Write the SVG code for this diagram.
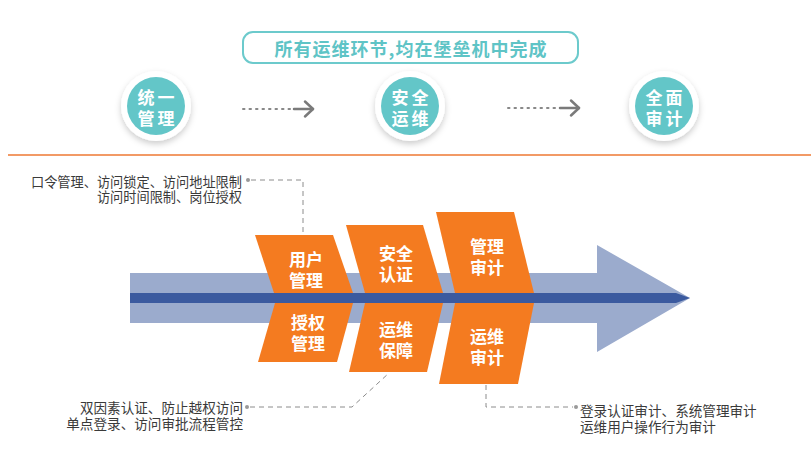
<svg xmlns="http://www.w3.org/2000/svg" width="811" height="474" viewBox="0 0 811 474">
<defs>
<filter id="sh" x="-40%" y="-40%" width="180%" height="180%">
<feDropShadow dx="0" dy="3" stdDeviation="3" flood-color="#000" flood-opacity="0.2"/>
</filter>
</defs>
<style>
text{font-family:"Noto Sans CJK SC","Noto Sans",sans-serif;}
.title{font-size:18px;font-weight:700;fill:#5fc4c6;letter-spacing:1px;}
.ct{font-size:17px;font-weight:700;fill:#fff;letter-spacing:3px;}
.lb{font-size:17px;font-weight:700;fill:#fff;}
.an{font-size:13.2px;fill:#3a3a3a;}
.an2{font-size:13.6px;fill:#3a3a3a;}
.ring{fill:#fff;filter:url(#sh);}
.teal{fill:#63c6c8;}
.orange{fill:#f47b20;}
.dash{fill:none;stroke:#8c8c8c;stroke-width:1;stroke-dasharray:5 4;}
.dots{fill:none;stroke:#888;stroke-width:2;stroke-dasharray:1.5 5;stroke-linecap:round;}
.arr{fill:none;stroke:#7a7a7a;stroke-width:2.5;stroke-linecap:round;stroke-linejoin:round;}
</style>
<rect width="811" height="474" fill="#fff"/>

<g id="title">
<rect x="243" y="32" width="335" height="31" rx="10" fill="#fff" stroke="#6ccacc" stroke-width="2"/>
<text class="title" x="411" y="48" text-anchor="middle" dominant-baseline="central">所有运维环节,均在堡垒机中完成</text>
</g>

<g id="step1">
<circle class="ring" cx="156" cy="106" r="35"/>
<circle class="teal" cx="156" cy="106" r="29"/>
<text class="ct" text-anchor="middle" dominant-baseline="central"><tspan x="157.5" y="96">统一</tspan><tspan x="157.5" y="117">管理</tspan></text>
</g>
<g id="step2">
<circle class="ring" cx="410" cy="106" r="35"/>
<circle class="teal" cx="410" cy="106" r="29"/>
<text class="ct" text-anchor="middle" dominant-baseline="central"><tspan x="411.5" y="96">安全</tspan><tspan x="411.5" y="117">运维</tspan></text>
</g>
<g id="step3">
<circle class="ring" cx="664" cy="106" r="35"/>
<circle class="teal" cx="664" cy="106" r="29"/>
<text class="ct" text-anchor="middle" dominant-baseline="central"><tspan x="665.5" y="96">全面</tspan><tspan x="665.5" y="117">审计</tspan></text>
</g>

<g id="connectors">
<line class="dots" x1="243" y1="109" x2="292" y2="109"/>
<line class="arr" x1="294" y1="109" x2="313" y2="109"/>
<polyline class="arr" points="305,101.5 313,109 305,116.5"/>
<line class="dots" x1="508" y1="108" x2="558" y2="108"/>
<line class="arr" x1="560" y1="108" x2="579" y2="108"/>
<polyline class="arr" points="571,100.5 579,108 571,115.5"/>
<circle cx="248" cy="180" r="2" fill="#999"/>
<polyline class="dash" points="251,180 303,180 303,234"/>
<circle cx="247" cy="407" r="2" fill="#999"/>
<polyline class="dash" points="250,407 352,407 389,373"/>
<circle cx="576" cy="407" r="2" fill="#999"/>
<polyline class="dash" points="486,385 486,407 573,407"/>
</g>

<line x1="8" y1="155" x2="811" y2="155" stroke="#f29a66" stroke-width="2"/>

<g id="spine">
<polygon points="130,273 597,273 597,245 690,298 597,352 597,323 130,323" fill="#9babcd"/>
<polygon points="130,293 676,293 690,298 676,303 130,303" fill="#3b5a9f"/>
</g>

<g id="user-mgmt">
<polygon class="orange" points="255,235 333,235 353,293 274,293"/>
<text class="lb" text-anchor="middle" dominant-baseline="central"><tspan x="306" y="258">用户</tspan><tspan x="306" y="279">管理</tspan></text>
</g>
<g id="auth-mgmt">
<polygon class="orange" points="275,303 353,303 337,362 258,362"/>
<text class="lb" text-anchor="middle" dominant-baseline="central"><tspan x="308" y="321">授权</tspan><tspan x="308" y="342">管理</tspan></text>
</g>
<g id="sec-auth">
<polygon class="orange" points="346,225 423,225 443,293 365,293"/>
<text class="lb" text-anchor="middle" dominant-baseline="central"><tspan x="396" y="252">安全</tspan><tspan x="396" y="273">认证</tspan></text>
</g>
<g id="ops-guard">
<polygon class="orange" points="365,303 443,303 427,372 349,372"/>
<text class="lb" text-anchor="middle" dominant-baseline="central"><tspan x="396" y="328">运维</tspan><tspan x="396" y="349">保障</tspan></text>
</g>
<g id="mgmt-audit">
<polygon class="orange" points="436,212 514,212 534,293 455,293"/>
<text class="lb" text-anchor="middle" dominant-baseline="central"><tspan x="487" y="245">管理</tspan><tspan x="487" y="266">审计</tspan></text>
</g>
<g id="ops-audit">
<polygon class="orange" points="455,303 534,303 518,384 439,384"/>
<text class="lb" text-anchor="middle" dominant-baseline="central"><tspan x="487" y="335">运维</tspan><tspan x="487" y="356">审计</tspan></text>
</g>

<g id="note-top">
<text class="an" text-anchor="end" dominant-baseline="central"><tspan x="242" y="181">口令管理、访问锁定、访问地址限制</tspan><tspan x="242" y="196">访问时间限制、岗位授权</tspan></text>
</g>
<g id="note-bottom-left">
<text class="an2" text-anchor="end" dominant-baseline="central"><tspan x="243" y="407">双因素认证、防止越权访问</tspan><tspan x="243" y="423">单点登录、访问审批流程管控</tspan></text>
</g>
<g id="note-bottom-right">
<text class="an2" dominant-baseline="central"><tspan x="580" y="410">登录认证审计、系统管理审计</tspan><tspan x="580" y="426">运维用户操作行为审计</tspan></text>
</g>
</svg>
